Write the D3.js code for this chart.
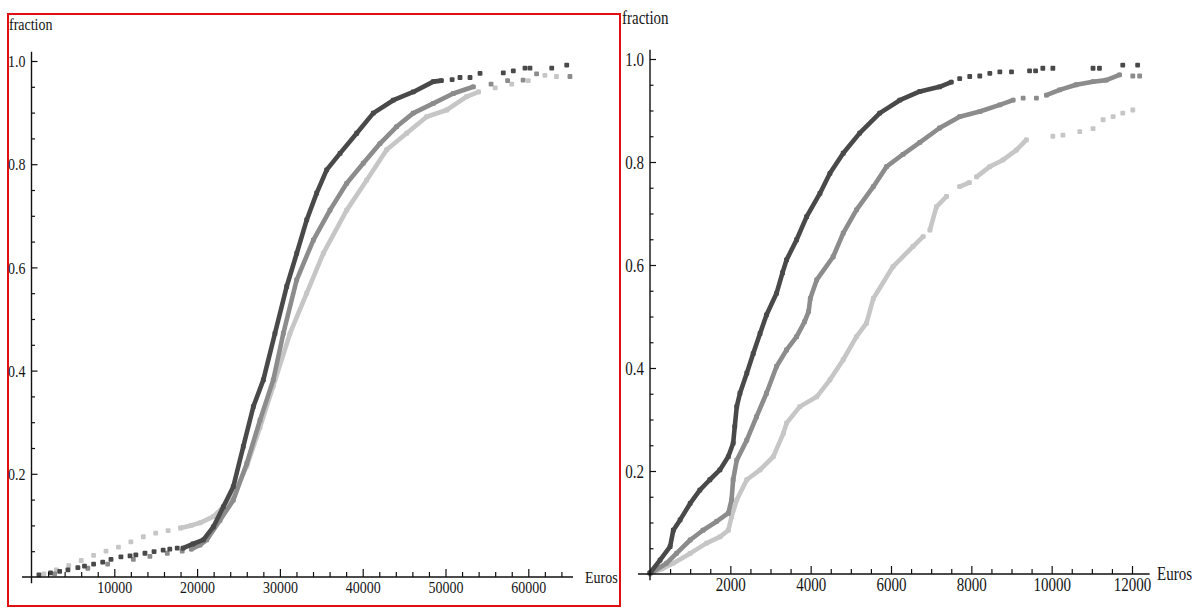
<!DOCTYPE html>
<html>
<head>
<meta charset="utf-8">
<script src="https://cdn.jsdelivr.net/npm/d3@7"></script>
<style>
  body { margin: 0; background: #fff; }
  text { font-family: "Liberation Serif", "Times New Roman", serif; fill: #151515; }
</style>
</head>
<body>
<svg width="1197" height="608"></svg>
<script>
// ---- data: [Euros, fraction] ----
const leftDarkDots = [[900,0.004],[2300,0.008],[3400,0.011],[4400,0.014],[5600,0.018],[6400,0.021],[7500,0.025],[8600,0.029],[9600,0.034],[10800,0.039],[11900,0.041],[12600,0.043],[13700,0.046],[14800,0.049],[15900,0.052],[16700,0.054],[17600,0.056],
  [50800,0.964],[51750,0.968],[52960,0.968],[54170,0.976],[56980,0.977],[58190,0.981],[59600,0.986],[60200,0.986],[62830,0.986],[64640,0.992]];
const leftDarkLine = [[18300,0.056],[19500,0.064],[20750,0.072],[21960,0.097],[23170,0.136],[24370,0.175],[25580,0.253],[26790,0.33],[28000,0.382],[29400,0.472],[30820,0.563],[32030,0.627],[33240,0.692],[34440,0.744],[35650,0.789],[37260,0.821],[39280,0.86],[41280,0.899],[43700,0.924],[46110,0.94],[48530,0.96],[49500,0.962]];

const leftMedDots = [[2800,0.006],[6800,0.017],[9200,0.025],[12300,0.034],[14300,0.04],[16400,0.046],[18200,0.05],
  [55500,0.955],[57500,0.962],[59370,0.963],[61000,0.975],[65030,0.97]];
const leftMedLine = [[19300,0.054],[20350,0.062],[21160,0.072],[22770,0.11],[24370,0.149],[26000,0.22],[27600,0.304],[29200,0.382],[30410,0.472],[32030,0.576],[34040,0.653],[36050,0.711],[38070,0.763],[40070,0.802],[42090,0.84],[44110,0.873],[46110,0.899],[48530,0.918],[50940,0.937],[53360,0.95]];

const leftLightDots = [[1500,0.006],[3000,0.014],[4500,0.022],[6000,0.032],[7500,0.042],[9000,0.05],[10500,0.058],[12000,0.068],[13500,0.078],[15000,0.085],[16500,0.09],
  [56000,0.948],[58000,0.955],[60000,0.962],[62000,0.972],[63400,0.97]];
const leftLightLine = [[18000,0.095],[19300,0.1],[20350,0.105],[21960,0.117],[23170,0.136],[24000,0.156],[25000,0.18],[26000,0.215],[27600,0.29],[29200,0.37],[31220,0.472],[33240,0.55],[35240,0.627],[38070,0.711],[40480,0.769],[42900,0.828],[45310,0.86],[47730,0.892],[50140,0.905],[52560,0.931],[54000,0.94]];

const rightDarkLine = [[0,0.002],[250,0.027],[500,0.053],[580,0.085],[750,0.105],[1000,0.137],[1240,0.163],[1490,0.183],[1740,0.202],[1950,0.228],[2070,0.254],[2110,0.286],[2160,0.325],[2240,0.351],[2410,0.39],[2570,0.428],[2740,0.467],[2900,0.503],[3150,0.545],[3300,0.585],[3400,0.61],[3650,0.649],[3900,0.694],[4230,0.739],[4480,0.778],[4810,0.817],[5220,0.856],[5720,0.895],[6220,0.92],[6720,0.937],[7210,0.946],[7500,0.955]];
const rightDarkDots = [[7710,0.962],[7960,0.966],[8210,0.967],[8460,0.972],[8710,0.975],[9000,0.975],[9450,0.977],[9600,0.977],[9780,0.982],[10030,0.982],[11030,0.982],[11190,0.982],[11770,0.988],[12140,0.988]];

const rightMedLine = [[0,0.002],[83,0.005],[415,0.021],[660,0.04],[1000,0.066],[1320,0.085],[1660,0.102],[1950,0.118],[2030,0.144],[2070,0.183],[2160,0.221],[2410,0.26],[2650,0.305],[2900,0.351],[3150,0.403],[3400,0.435],[3650,0.461],[3850,0.49],[3950,0.51],[3990,0.535],[4150,0.571],[4560,0.616],[4810,0.662],[5140,0.707],[5560,0.752],[5890,0.791],[6300,0.815],[6720,0.838],[7210,0.866],[7710,0.888],[8210,0.898],[8710,0.911],[9040,0.92],
  null,[9870,0.93],[10200,0.94],[10610,0.95],[11030,0.956],[11360,0.959],[11690,0.969]];
const rightMedDots = [[9290,0.924],[9620,0.924],[12020,0.967],[12190,0.967]];

const rightLightLine = [[0,0.0],[300,0.01],[580,0.021],[1000,0.04],[1410,0.06],[1740,0.072],[1950,0.085],[2030,0.111],[2160,0.144],[2410,0.183],[2740,0.202],[3070,0.228],[3320,0.273],[3400,0.293],[3730,0.325],[4150,0.344],[4480,0.377],[4810,0.416],[5140,0.461],[5390,0.487],[5560,0.535],[6050,0.597],[6550,0.636],[6800,0.655],
  null,[6970,0.668],[7130,0.713],[7380,0.733],null,[7710,0.752],[7950,0.76],null,[8130,0.771],[8460,0.791],[8790,0.804],[9120,0.823],[9370,0.843]];
const rightLightDots = [[10030,0.85],[10280,0.852],[10700,0.859],[11030,0.865],[11280,0.882],[11530,0.888],[11770,0.895],[12020,0.901]];

const leftXTicks = [10000, 20000, 30000, 40000, 50000, 60000];
const rightXTicks = [2000, 4000, 6000, 8000, 10000, 12000];
const yTicks = [0.2, 0.4, 0.6, 0.8, 1.0];

const colors = { dark: "#4a4a4a", med: "#8c8c8c", light: "#c6c6c6" };

const svg = d3.select("svg");

const defs = svg.append("defs");
defs.append("filter").attr("id", "soft")
  .append("feGaussianBlur").attr("stdDeviation", 0.6);

// red frame round the left panel
svg.append("rect")
  .attr("x", 8).attr("y", 14).attr("width", 612).attr("height", 592)
  .attr("fill", "none").attr("stroke", "#e01010").attr("stroke-width", 2);

// the original text is drawn tall and narrow: stretch it vertically
function stretch(sel) {
  sel.each(function () {
    const t = d3.select(this);
    const tx = +t.attr("x") || 0, ty = +t.attr("y") || 0;
    t.attr("x", 0).attr("y", 0).attr("transform", `translate(${tx},${ty}) scale(1,1.25)`);
  });
}

function drawSeries(g, line, dots, x, y, color) {
  const path = d3.line().defined(d => d != null).x(d => x(d[0])).y(d => y(d[1]));
  g.append("path")
    .attr("d", path(line))
    .attr("fill", "none")
    .attr("stroke", color)
    .attr("stroke-width", 4.6)
    .attr("stroke-linejoin", "round")
    .attr("stroke-linecap", "round");
  g.selectAll(null)
    .data(line.filter(d => d).concat(dots))
    .join("rect")
    .attr("x", d => x(d[0]) - 2.4)
    .attr("y", d => y(d[1]) - 2.4)
    .attr("width", 4.8)
    .attr("height", 4.8)
    .attr("rx", 1)
    .attr("fill", color);
}

function panel(cfg) {
  const x = d3.scaleLinear().domain([0, cfg.xMax]).range([cfg.x0, cfg.x1]);
  const y = d3.scaleLinear().domain([0, 1]).range([cfg.y0, cfg.y1]);
  const g = svg.append("g");

  // series
  const marks = g.append("g").attr("filter", "url(#soft)");
  cfg.series.forEach(s => drawSeries(marks, s.line, s.dots, x, y, s.color));

  // axis lines
  g.append("line")
    .attr("x1", x(cfg.xLo)).attr("x2", x(cfg.xHi))
    .attr("y1", y(0)).attr("y2", y(0))
    .attr("stroke", "#111").attr("stroke-width", 1.5);
  g.append("line")
    .attr("x1", x(0)).attr("x2", x(0))
    .attr("y1", y(-0.012)).attr("y2", y(1.018))
    .attr("stroke", "#111").attr("stroke-width", 1.4);

  // x ticks, pointing inward
  const minorX = d3.range(cfg.minorStep, cfg.xHi, cfg.minorStep).filter(v => !cfg.xTicks.includes(v));
  const xMinor = g.append("g").attr("transform", `translate(0,${y(0)})`)
    .call(d3.axisBottom(x).tickValues(minorX).tickSize(-5).tickFormat(""));
  const xMajor = g.append("g").attr("transform", `translate(0,${y(0)})`)
    .call(d3.axisBottom(x).tickValues(cfg.xTicks).tickSize(-8).tickPadding(4).tickFormat(d3.format("d")));

  // y ticks, pointing inward
  const minorY = d3.range(0.05, 1.0001, 0.05).filter(v => Math.abs(v * 5 - Math.round(v * 5)) > 1e-6);
  const yMinor = g.append("g").attr("transform", `translate(${x(0)},0)`)
    .call(d3.axisLeft(y).tickValues(minorY).tickSize(-3.5).tickFormat(""));
  const yMajor = g.append("g").attr("transform", `translate(${x(0)},0)`)
    .call(d3.axisLeft(y).tickValues(yTicks).tickSize(-6).tickPadding(6).tickFormat(d3.format(".1f")));

  [xMinor, xMajor, yMinor, yMajor].forEach(a => {
    a.select(".domain").remove();
    a.selectAll(".tick line").attr("stroke", "#111").attr("stroke-width", 1.2);
    a.selectAll("text").attr("font-size", cfg.fontSize).attr("fill", "#151515")
      .attr("font-family", '"Liberation Serif", serif');
  });
  stretch(xMajor.selectAll("text"));
  stretch(yMajor.selectAll("text"));

  const frac = g.append("text").attr("x", cfg.fracX).attr("y", cfg.fracY)
    .attr("font-size", cfg.fontSize).text("fraction");
  const euros = g.append("text").attr("x", cfg.eurosX).attr("y", cfg.eurosY)
    .attr("font-size", cfg.fontSize).text("Euros");
  stretch(frac);
  stretch(euros);
}

panel({
  xMax: 60000, x0: 31.5, x1: 528.3, y0: 577, y1: 61,
  xLo: -1150, xHi: 65400, minorStep: 2000, xTicks: leftXTicks,
  fontSize: 14, fracX: 9, fracY: 30, eurosX: 585, eurosY: 583,
  series: [
    { line: leftLightLine, dots: leftLightDots, color: colors.light },
    { line: leftMedLine, dots: leftMedDots, color: colors.med },
    { line: leftDarkLine, dots: leftDarkDots, color: colors.dark }
  ]
});

panel({
  xMax: 12000, x0: 650, x1: 1132, y0: 574, y1: 59,
  xLo: -300, xHi: 12440, minorStep: 500, xTicks: rightXTicks,
  fontSize: 15, fracX: 622, fracY: 24, eurosX: 1157, eurosY: 580,
  series: [
    { line: rightLightLine, dots: rightLightDots, color: colors.light },
    { line: rightMedLine, dots: rightMedDots, color: colors.med },
    { line: rightDarkLine, dots: rightDarkDots, color: colors.dark }
  ]
});
</script>
</body>
</html>
